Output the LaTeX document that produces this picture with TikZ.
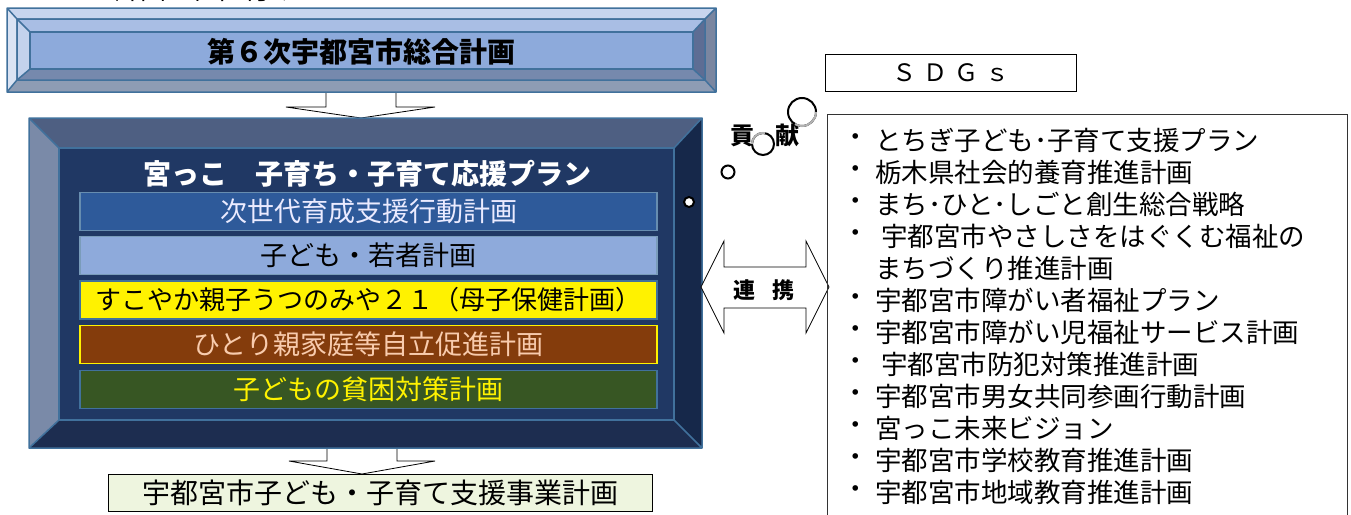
\documentclass[tikz,border=0pt]{standalone}
\usepackage{fontspec}
\setmainfont{Noto Sans CJK JP}
\usetikzlibrary{positioning}

\newcommand{\fsz}[1]{\fontsize{#1}{#1}\selectfont}

% frame colours
\definecolor{frameline}{HTML}{41719C}
\definecolor{atop}{HTML}{C7D5EE}
\definecolor{aleft}{HTML}{DAE3F3}
\definecolor{abot}{HTML}{8E9CB4}
\definecolor{aright}{HTML}{7A86A0}
\definecolor{btop}{HTML}{A9BEE4}
\definecolor{bleft}{HTML}{C3D2EC}
\definecolor{bbot}{HTML}{7689AD}
\definecolor{bright}{HTML}{5D6D94}
\definecolor{ctop}{HTML}{4E5F82}
\definecolor{cleft}{HTML}{7A8AA8}
\definecolor{cbot}{HTML}{1D2D50}
\definecolor{cright}{HTML}{16284A}
\definecolor{faceA}{HTML}{8DAADB}
\definecolor{faceB}{HTML}{203864}
% row colours
\definecolor{rowA}{HTML}{2E5A9A}
\definecolor{rowB}{HTML}{8EAADB}
\definecolor{rowD}{HTML}{843C0C}
\definecolor{rowE}{HTML}{375623}
\definecolor{peach}{HTML}{F8CBAD}
\definecolor{palegreen}{HTML}{EEF5DF}

% bevelled band: outer x1,y1,x2,y2 / inner x1,y1,x2,y2 / colour prefix
\newcommand{\bevelband}[9]{%
  \fill[#9top] (#1,#2) -- (#3,#2) -- (#7,#6) -- (#5,#6) -- cycle;
  \fill[#9left] (#1,#2) -- (#5,#6) -- (#5,#8) -- (#1,#4) -- cycle;
  \fill[#9bot] (#1,#4) -- (#5,#8) -- (#7,#8) -- (#3,#4) -- cycle;
  \fill[#9right] (#3,#2) -- (#3,#4) -- (#7,#8) -- (#7,#6) -- cycle;
  \draw[frameline, line width=1.5pt, line join=round]
    (#1,#2) rectangle (#3,#4) (#5,#6) rectangle (#7,#8)
    (#1,#2) -- (#5,#6) (#3,#2) -- (#7,#6) (#1,#4) -- (#5,#8) (#3,#4) -- (#7,#8);
}

\begin{document}
\begin{tikzpicture}[x=1pt, y=-1pt,
    every node/.style={inner sep=0pt},
    rowbox/.style={minimum width=577pt, minimum height=38pt, line width=1.2pt, font=\fsz{27}},
    item/.style={anchor=west, font=\fsz{26.5}},
    blockarrow/.style={draw=black, fill=white, line width=0.8pt},
    ring/.style={draw=black, line width=2pt}]
    \clip (0,0) rectangle (1351,514);
    \useasboundingbox (0,0) rectangle (1351,514);

    % heading, cut by the top edge
    \node[font=\fsz{26}] (heading) at (205,-10) {計画の位置付け};

    % block arrows
    \draw[blockarrow] (326,92) -- (396,92) -- (396,107) -- (435,107) -- (361,118)
        -- (286,107) -- (326,107) -- cycle;
    \draw[blockarrow] (327,448) -- (397,448) -- (397,461) -- (435,461) -- (362,474)
        -- (289,461) -- (327,461) -- cycle;

    % top frame
    \bevelband{7}{8}{716}{92}{17}{19}{705}{80}{a}
    \bevelband{17}{19}{705}{80}{30}{32}{693}{69}{b}
    \fill[faceA] (30,32) rectangle (693,69);
    \draw[frameline, line width=1.5pt] (30,32) rectangle (693,69);
    \node[font=\fsz{28}\bfseries] (plan6) at (361,52) {第６次宇都宮市総合計画};

    % main frame
    \bevelband{29}{118}{702}{448}{59}{148}{674}{420}{c}
    \fill[faceB] (59,148) rectangle (674,420);
    \draw[frameline, line width=1.5pt] (59,148) rectangle (674,420);
    \node[font=\fsz{28}\bfseries, text=white] (miyakko) at (367,174) {宮っこ　子育ち・子育て応援プラン};
    \draw[ring, fill=white] (689,202) circle (5pt);

    % plans inside the main frame
    \node[rowbox, fill=rowA, draw=frameline!80!white, text=white!92!blue] (row1) at (368.5,211.5) {次世代育成支援行動計画};
    \node[rowbox, fill=rowB, draw=frameline!70!white, below=5pt of row1] (row2) {子ども・若者計画};
    \node[rowbox, fill=yellow, draw=frameline, below=5pt of row2, font=\fsz{26}] (row3) {すこやか親子うつのみや２１（母子保健計画）};
    \node[rowbox, fill=rowD, draw=yellow, text=peach, below=5pt of row3] (row4) {ひとり親家庭等自立促進計画};
    \node[rowbox, fill=rowE, draw=frameline, text=yellow, below=6pt of row4] (row5) {子どもの貧困対策計画};

    % bottom plan
    \node[draw, line width=1pt, fill=palegreen, minimum width=544pt, minimum height=37pt, font=\fsz{28}] (jigyo) at (380,493) {宇都宮市子ども・子育て支援事業計画};

    % SDGs
    \node[draw, line width=1.2pt, minimum width=251pt, minimum height=37pt, font=\fsz{24}] (sdgs) at (951,73)
        {Ｓ\hspace{7pt}Ｄ\hspace{7pt}Ｇ\hspace{7pt}ｓ};
    \node[font=\fsz{24}\bfseries] (kouken) at (765,135) {貢\hspace{21pt}献};
    \draw[ring] (802,112) circle (14pt);
    \draw[gray!60, line width=2pt] (816,112) arc[start angle=0, end angle=-120, radius=14pt];
    \draw[ring] (763,144) circle (11pt);
    \draw[gray!60, line width=2pt] (752,144) arc[start angle=180, end angle=80, radius=11pt];
    \draw[ring] (728,172) circle (6.5pt);

    % link arrow
    \draw[blockarrow] (701,287) -- (724,241) -- (724,267) -- (806,267) -- (806,241) -- (829,287)
        -- (806,333) -- (806,308) -- (724,308) -- (724,333) -- cycle;
    \node[font=\fsz{22}\bfseries] (renkei) at (764,290) {連\hspace{17pt}携};

    % related plans
    \draw[black!80, line width=0.9pt] (827,530) -- (827,114) -- (1347,114) -- (1347,530);
    \foreach \txt [count=\i] in {とちぎ子ども･子育て支援プラン, 栃木県社会的養育推進計画,
        まち･ひと･しごと創生総合戦略, \hspace{6pt}宇都宮市やさしさをはぐくむ福祉の,
        まちづくり推進計画, 宇都宮市障がい者福祉プラン, 宇都宮市障がい児福祉サービス計画,
        \hspace{6pt}宇都宮市防犯対策推進計画, 宇都宮市男女共同参画行動計画, 宮っこ未来ビジョン,
        宇都宮市学校教育推進計画, 宇都宮市地域教育推進計画}
        \node[item] (it\i) at (875,108+32*\i) {\txt};
    \foreach \i in {1,2,3,4,6,7,8,9,10,11,12}
        \node[item] (dot\i) at (842,108+32*\i) {・};
\end{tikzpicture}
\end{document}
